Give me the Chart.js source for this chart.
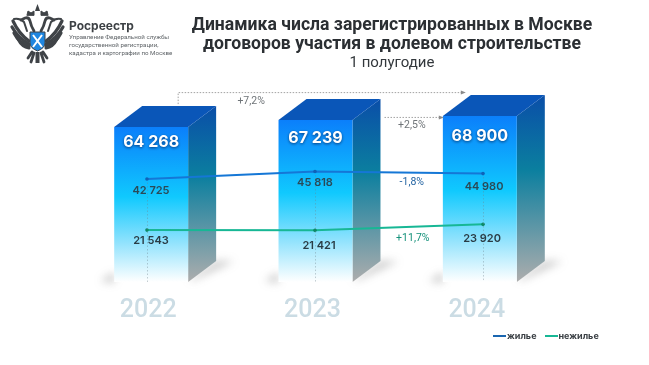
<!DOCTYPE html>
<html lang="ru">
<head>
<meta charset="utf-8">
<title>Договоры участия в долевом строительстве</title>
<script src="https://cdn.jsdelivr.net/npm/chart.js@4"></script>
<style>
  html, body { margin: 0; padding: 0; background: #fff; }
  #wrap { position: relative; width: 649px; height: 365px; overflow: hidden; font-family: Roboto, sans-serif; }
  canvas { position: absolute; left: 0; top: 0; }
  .abs { position: absolute; white-space: nowrap; }
  #title { left: 142px; width: 500px; top: 15px; text-align: center; font: 700 17.6px/19px Roboto, sans-serif; color: #2b2f33; }
  #subtitle { left: 142px; width: 500px; top: 53px; text-align: center; font: 400 15px/18px Roboto, sans-serif; color: #33383c; }
  #org { left: 69px; top: 18px; font: 700 12px/16px Inter, sans-serif; color: #3d4145; }
  #dept { left: 69px; top: 33px; font: 400 6.2px/8.2px Roboto, sans-serif; color: #5f6468; }
  #legend { left: 493px; top: 330px; display: flex; gap: 8px; font: 700 9px/12px Inter, sans-serif; color: #3b4045; }
  #legend span { display: flex; align-items: center; gap: 1px; }
  #legend i { display: block; width: 13px; height: 2px; }
</style>
</head>
<body>
<div id="wrap">
  <canvas id="chart" width="649" height="365"></canvas>
  <svg class="abs" style="left:0;top:0" width="70" height="70" viewBox="0 0 70 70">
    <defs>
      <g id="half" fill="none" stroke="#3f4347" stroke-linecap="round">
        <path d="M29 41 Q19 34 13 21" stroke-width="3.2"/>
        <path d="M29 44 Q18 38 12 27" stroke-width="3.2"/>
        <path d="M29 46 Q19 43 14 33" stroke-width="3.2"/>
        <path d="M29 48 Q22 47 18 39" stroke-width="3"/>
        <path d="M14 19 Q20 18 24 22 L27 31" stroke-width="2"/>
        <path d="M34 31 Q31 26 30 21 Q29 17 25 18 L21 20" stroke-width="2.8"/>
        <path d="M32 52 L28 58 M34 53 L31 62" stroke-width="2.8"/>
        <path d="M27 15 L28 11 L31 13 L34 11 L34 15 Z" fill="#3f4347" stroke-width="1"/>
      </g>
    </defs>
    <use href="#half"/>
    <use href="#half" transform="translate(75 0) scale(-1 1)"/>
    <path d="M35 11 L36 8 L37.5 4 L39 8 L40 11 Z" fill="#3f4347"/>
    <path d="M35.5 52 L39.5 52 L39.5 63 L35.5 63 Z" fill="#3f4347"/>
    <path d="M30 32 L45 32 L45 43 Q45 48 37.5 51 Q30 48 30 43 Z" fill="#1f86e0" stroke="#3f4347" stroke-width="1"/>
    <path d="M33 35 L42 47 M42 35 L33 47" stroke="#fff" stroke-width="2"/>
  </svg>
  <div class="abs" id="org">Росреестр</div>
  <div class="abs" id="dept">Управление Федеральной службы<br>государственной регистрации,<br>кадастра и картографии по Москве</div>
  <div class="abs" id="title">Динамика числа зарегистрированных в Москве<br>договоров участия в долевом строительстве</div>
  <div class="abs" id="subtitle">1 полугодие</div>
  <div class="abs" id="legend"></div>
</div>
<script>
var years = ["2022", "2023", "2024"]
var total = [64268, 67239, 68900]
var housing = [42725, 45818, 44980]
var nonHousing = [21543, 21421, 23920]
var seriesNames = ["жилье", "нежилье"]
var seriesColors = ["#1577d6", "#17b795"]
var pointColors = ["#0f62b8", "#0b8a68"]
var growth = ["+7,2%", "+2,5%", "-1,8%", "+11,7%"]

// подписи сдвинуты вручную как в исходной картинке
var totalDy = [15, 18, 20]
var housingDy = [12, 11, 13]
var housingDx = [4, 0, 1]
var nonHousingDy = [11, 15, 14]
var nonHousingDx = [4, 4, -1]

var DEPTH_X = 28
var DEPTH_Y = 21

function fmt(v) {
  return String(v).replace(/\B(?=(\d{3})+$)/g, " ")
}

function barGradient(ctx) {
  var chart = ctx.chart
  if (!chart.chartArea || ctx.dataIndex === undefined) return "#10a0ff"
  var y = chart.scales.y
  var g = chart.ctx.createLinearGradient(0, y.getPixelForValue(total[ctx.dataIndex]), 0, y.getPixelForValue(0))
  g.addColorStop(0, "#0b7ffb")
  g.addColorStop(0.45, "#10c9fe")
  g.addColorStop(0.75, "#93e3fd")
  g.addColorStop(1, "#ffffff")
  return g
}

// боковая и верхняя грани + тень под столбцами
var box3d = {
  id: "box3d",
  beforeDatasetsDraw: function(chart) {
    var c = chart.ctx
    var bars = chart.getDatasetMeta(0).data
    bars.forEach(function(b) {
      var l = b.x - b.width / 2, r = b.x + b.width / 2, t = b.y, bt = b.base

      c.save()
      c.filter = "blur(4px)"
      c.fillStyle = "rgba(90,90,90,.32)"
      c.beginPath()
      c.moveTo(r, bt - 2)
      c.lineTo(r + DEPTH_X, bt - DEPTH_Y)
      c.lineTo(r + DEPTH_X + 18, bt - DEPTH_Y)
      c.lineTo(r + 6, bt - 2)
      c.closePath()
      c.fill()
      c.beginPath()
      c.moveTo(l, bt - 10)
      c.lineTo(l - 14, bt - 1)
      c.lineTo(l, bt + 1)
      c.closePath()
      c.fill()
      c.restore()

      var g = c.createLinearGradient(0, t - DEPTH_Y, 0, bt)
      g.addColorStop(0, "#0a4ea8")
      g.addColorStop(0.4, "#0b7f9f")
      g.addColorStop(1, "#adadad")
      c.fillStyle = g
      c.beginPath()
      c.moveTo(r, t)
      c.lineTo(r + DEPTH_X, t - DEPTH_Y)
      c.lineTo(r + DEPTH_X, bt - DEPTH_Y)
      c.lineTo(r, bt)
      c.closePath()
      c.fill()

      c.fillStyle = "#0a56b8"
      c.beginPath()
      c.moveTo(l, t)
      c.lineTo(l + DEPTH_X, t - DEPTH_Y)
      c.lineTo(r + DEPTH_X, t - DEPTH_Y)
      c.lineTo(r, t)
      c.closePath()
      c.fill()
    })
  }
}

function arrow(c, pts) {
  c.save()
  c.strokeStyle = "#a3a3a3"
  c.lineWidth = 1
  c.setLineDash([1.5, 1.5])
  c.beginPath()
  pts.forEach(function(p, i) {
    if (i == 0) c.moveTo(p[0], p[1])
    else c.lineTo(p[0], p[1])
  })
  c.stroke()
  var e = pts[pts.length - 1]
  c.setLineDash([])
  c.fillStyle = "#8a8a8a"
  c.beginPath()
  c.moveTo(e[0] + 3, e[1])
  c.lineTo(e[0] - 2, e[1] - 2)
  c.lineTo(e[0] - 2, e[1] + 2)
  c.closePath()
  c.fill()
  c.restore()
}

var labels = {
  id: "labels",
  beforeDatasetDraw: function(chart, args) {
    // пунктир от точек вниз, под линией
    if (args.index != 1) return
    var c = chart.ctx
    var base = chart.scales.y.getPixelForValue(0)
    c.save()
    c.strokeStyle = "rgba(110,130,140,.4)"
    c.lineWidth = 1
    c.setLineDash([1.5, 2])
    chart.getDatasetMeta(1).data.forEach(function(p) {
      c.beginPath()
      c.moveTo(Math.round(p.x) + 0.5, p.y)
      c.lineTo(Math.round(p.x) + 0.5, base)
      c.stroke()
    })
    c.restore()
  },
  afterDatasetsDraw: function(chart) {
    var c = chart.ctx
    var bars = chart.getDatasetMeta(0).data
    var h = chart.getDatasetMeta(1).data
    var n = chart.getDatasetMeta(2).data
    c.save()
    c.textAlign = "center"
    c.textBaseline = "middle"

    c.font = "700 16px Inter, sans-serif"
    c.fillStyle = "#fff"
    c.shadowColor = "rgba(0,30,80,.75)"
    c.shadowBlur = 3
    c.shadowOffsetY = 1
    bars.forEach(function(b, i) {
      c.fillText(fmt(total[i]), b.x, b.y + totalDy[i])
    })
    c.shadowColor = "transparent"
    c.shadowBlur = 0
    c.shadowOffsetY = 0

    c.font = "600 11px Inter, sans-serif"
    c.fillStyle = "#2b4a57"
    h.forEach(function(p, i) {
      c.fillText(fmt(housing[i]), p.x + housingDx[i], p.y + housingDy[i])
    })
    c.fillStyle = "#2a3c45"
    n.forEach(function(p, i) {
      c.fillText(fmt(nonHousing[i]), p.x + nonHousingDx[i], p.y + nonHousingDy[i])
    })

    c.font = "400 10.5px Roboto, sans-serif"
    c.fillStyle = "#6f7478"
    c.fillText(growth[0], bars[0].x + 100, bars[0].y - 26)
    c.fillText(growth[1], bars[2].x - 68, bars[2].y + 9)
    c.fillStyle = "#1d5f9f"
    c.fillText(growth[2], bars[2].x - 68, h[2].y + 9)
    c.fillStyle = "#14917a"
    c.fillText(growth[3], bars[2].x - 67, n[2].y + 14)
    c.restore()

    arrow(c, [[bars[0].x + 27, bars[0].y - 23], [bars[0].x + 27, bars[0].y - 34.5], [bars[2].x - 17, bars[0].y - 34.5]])
    arrow(c, [[bars[1].x + 69, bars[2].y + 1.5], [bars[2].x - 39, bars[2].y + 1.5]])
  }
}

new Chart(document.getElementById("chart"), {
  type: "bar",
  data: {
    labels: years,
    datasets: [
      {
        label: "всего",
        data: total,
        backgroundColor: barGradient,
        grouped: false, // иначе вторая ось x делит место пополам
        categoryPercentage: 1,
        barPercentage: 0.45,
        order: 2
      },
      {
        type: "line",
        label: seriesNames[0],
        xAxisID: "xLine",
        data: years.map(function(y, i) { return { x: Number(y), y: housing[i] } }),
        borderColor: seriesColors[0],
        borderWidth: 2,
        pointRadius: 1.8,
        pointBackgroundColor: pointColors[0],
        pointBorderWidth: 0,
        tension: 0,
        order: 1
      },
      {
        type: "line",
        label: seriesNames[1],
        xAxisID: "xLine",
        data: years.map(function(y, i) { return { x: Number(y), y: nonHousing[i] } }),
        borderColor: seriesColors[1],
        borderWidth: 2,
        pointRadius: 1.8,
        pointBackgroundColor: pointColors[1],
        pointBorderWidth: 0,
        tension: 0,
        order: 1
      }
    ]
  },
  options: {
    responsive: false,
    animation: false,
    layout: { padding: { left: 69, right: 87, top: 94, bottom: 33 } },
    plugins: {
      legend: { display: false },
      title: { display: false },
      tooltip: { enabled: false }
    },
    scales: {
      x: {
        grid: { display: false },
        border: { display: false },
        ticks: {
          color: "#cbdce4",
          font: { family: "Roboto", size: 25, weight: "500" },
          padding: 6,
          labelOffset: -3,
          maxRotation: 0
        }
      },
      // линии стоят чуть иначе чем столбцы, поэтому своя ось по годам
      xLine: {
        type: "linear",
        display: false,
        offset: false,
        min: 2021.536,
        max: 2024.47
      },
      y: {
        display: false,
        min: 0,
        max: 78000,
        grid: { display: false }
      }
    }
  },
  plugins: [box3d, labels]
})

var legendEl = document.getElementById("legend")
seriesNames.forEach(function(name, i) {
  var s = document.createElement("span")
  var line = document.createElement("i")
  line.style.background = i == 0 ? "#1a66b0" : seriesColors[i]
  s.appendChild(line)
  s.appendChild(document.createTextNode(name))
  legendEl.appendChild(s)
})
</script>
</body>
</html>
